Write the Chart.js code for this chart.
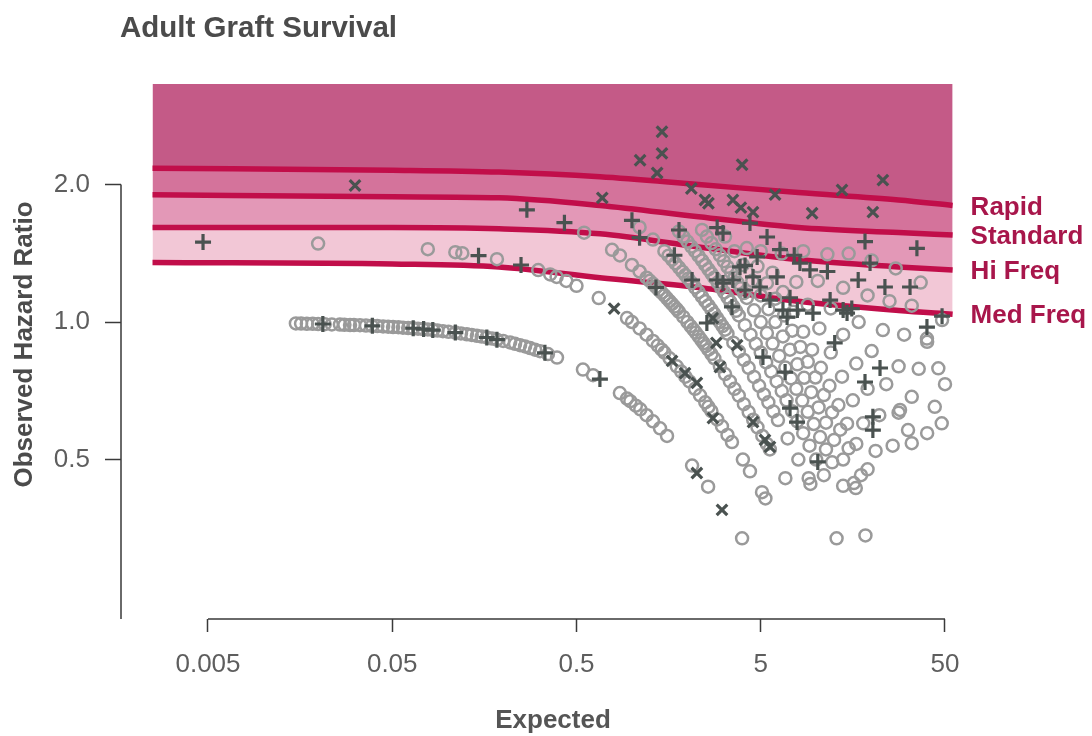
<!DOCTYPE html>
<html><head><meta charset="utf-8">
<script src="https://cdn.jsdelivr.net/npm/chart.js@4"></script>
<style>html,body{margin:0;padding:0;background:#fff}canvas{display:block}</style>
</head><body>
<canvas id="c" width="1092" height="736"></canvas>
<script>
// ---- tick labels ----
const xTicks = [0.005, 0.05, 0.5, 5, 50];
const yTicks = [0.5, 1, 2];

// ---- band boundary lines ----
const lineE = [0.0025, 0.05, 0.19, 0.67, 2.3, 8, 28, 55];
const rapidHR = [2.17, 2.15, 2.13, 2.08, 2.00, 1.92, 1.85, 1.80];
const standardHR = [1.90, 1.88, 1.87, 1.80, 1.70, 1.61, 1.57, 1.55];
const hiFreqHR = [1.61, 1.61, 1.60, 1.56, 1.46, 1.37, 1.32, 1.30];
const medFreqHR = [1.35, 1.34, 1.32, 1.25, 1.19, 1.11, 1.06, 1.04];
const topHR = [3.32, 3.32, 3.32, 3.32, 3.32, 3.32, 3.32, 3.32];
const lineNames = ['Rapid', 'Standard', 'Hi Freq', 'Med Freq'];

// ---- circles (grey) ----
const circleE = [
0.0150,0.0160,0.0172,0.0185,0.0198,0.0215,0.0235,0.0260,0.0275,0.0295,0.0310,0.0334,0.0360,0.0388,0.0415,0.0446,0.0475,0.0505,0.0540,0.0572,0.0610,0.0648,0.0690,0.0735,0.0780,0.0832,0.0880,0.0942,0.101,0.110,0.118,0.127,0.135,0.144,0.153,0.163,0.174,0.185,0.200,0.218,0.232,0.247,0.263,0.280,0.298,0.317,0.350,0.392,
0.542,0.615,0.860,0.940,0.980,1.05,1.11,1.20,1.30,1.42,1.55,2.12,2.59,3.96,
0.0198,0.078,0.110,0.120,0.185,0.310,0.360,0.390,0.440,0.500,0.660,0.940,1.00,1.10,1.20,1.38,1.50,1.60,1.75,1.85,2.05,2.20,2.34,2.50,2.70,2.90,3.08,3.30,3.49,4.00,4.37,5.08,5.30,
0.55,0.78,0.86,1.00,1.10,1.20,1.30,1.40,1.50,1.60,1.70,1.80,1.90,2.00,2.15,2.30,2.45,2.60,2.80,3.00,3.20,3.40,3.60,3.80,4.05,4.30,4.55,4.80,5.10,5.40,5.60,6.80,
1.10,1.30,1.50,1.65,1.80,1.95,2.10,2.30,2.50,2.70,2.90,3.10,3.30,3.55,3.80,4.05,4.30,4.60,4.90,5.20,5.50,5.85,6.20,7.00,8.00,9.30,12.9,
1.80,2.00,2.20,2.40,2.60,2.80,3.05,3.30,3.55,3.80,4.10,4.40,4.70,5.00,5.35,5.70,6.10,6.50,6.90,7.40,7.90,8.50,9.20,10.0,11.0,
2.40,2.70,3.00,3.30,3.60,3.90,4.20,4.60,5.00,5.40,5.80,6.30,6.80,7.30,7.80,8.40,9.00,9.70,10.5,11.3,12.2,14.0,18.5,
3.20,3.60,4.00,4.50,5.00,5.50,6.00,6.60,7.20,7.90,8.60,9.40,10.3,11.3,12.5,14.0,16.0,
4.20,4.80,5.40,6.00,6.70,7.40,8.20,9.00,9.90,11.0,12.2,13.5,15.0,17.5,
5.00,5.80,6.60,7.50,8.50,9.50,10.6,11.8,13.2,14.7,16.5,19.0,
6.50,7.80,9.00,10.4,12.0,13.8,15.8,18.0,21.0,
8.50,10.2,12.0,14.0,16.5,19.0,22.0,26.0,
11.5,14.0,17.0,20.0,24.0,28.0,33.0,
15.0,19.0,23.0,28.0,33.0,40.0,
20.0,25.0,30.0,36.0,44.0,48.0,
27.0,33.0,40.0,46.0,50.0,
9.1,16.4,31.5,28.5,48.2,39.9,36.9,
1.30,1.45,1.95,2.60,
1.25,1.35,1.45,1.55,1.65,1.75,2.08,2.22,2.38,2.52,2.70,
1.58,1.72,1.88,2.02,2.20,2.40,2.60,2.80,3.00,3.20,
1.90,2.10,2.30,2.50,2.70,2.92,3.17,3.42,3.67,
2.55,2.85,3.15,3.45,3.75,4.05
];
const circleHR = [
0.993,0.992,0.991,0.991,0.990,0.989,0.988,0.987,0.986,0.985,0.985,0.984,0.982,0.981,0.980,0.978,0.977,0.975,0.974,0.972,0.970,0.969,0.967,0.965,0.963,0.960,0.958,0.955,0.952,0.948,0.944,0.940,0.937,0.933,0.929,0.925,0.920,0.915,0.909,0.902,0.896,0.890,0.884,0.877,0.870,0.863,0.851,0.836,
0.787,0.765,0.699,0.680,0.671,0.656,0.644,0.625,0.606,0.585,0.563,0.485,0.436,0.336,
1.485,1.444,1.422,1.415,1.373,1.299,1.271,1.255,1.230,1.200,1.128,1.020,1.000,0.968,0.938,0.888,0.857,0.833,0.800,0.779,0.741,0.714,0.691,0.667,0.638,0.612,0.591,0.566,0.546,0.500,0.471,0.424,0.411,
1.569,1.439,1.399,1.333,1.290,1.250,1.212,1.176,1.143,1.111,1.081,1.053,1.026,1.000,0.964,0.930,0.899,0.870,0.833,0.800,0.769,0.741,0.714,0.690,0.661,0.635,0.611,0.588,0.563,0.541,0.526,0.455,
1.613,1.515,1.429,1.370,1.316,1.266,1.220,1.163,1.111,1.064,1.020,0.980,0.943,0.901,0.862,0.826,0.794,0.758,0.725,0.694,0.667,0.637,0.610,0.556,0.500,0.442,0.336,
1.579,1.500,1.429,1.364,1.304,1.250,1.188,1.132,1.081,1.034,0.984,0.938,0.896,0.857,0.816,0.779,0.741,0.706,0.674,0.638,0.606,0.571,0.536,0.500,0.462,
1.591,1.489,1.400,1.321,1.250,1.186,1.129,1.061,1.000,0.946,0.897,0.843,0.795,0.753,0.714,0.673,0.636,0.598,0.560,0.526,0.493,0.438,0.341,
1.538,1.429,1.333,1.231,1.143,1.067,1.000,0.930,0.870,0.808,0.755,0.702,0.650,0.602,0.552,0.500,0.444,
1.452,1.324,1.216,1.125,1.034,0.957,0.882,0.818,0.756,0.692,0.634,0.581,0.529,0.462,
1.429,1.282,1.163,1.053,0.952,0.870,0.794,0.725,0.658,0.599,0.541,0.476,
1.412,1.224,1.091,0.968,0.857,0.759,0.674,0.600,0.522,
1.429,1.230,1.071,0.938,0.811,0.714,0.625,0.536,
1.407,1.188,1.000,0.864,0.731,0.633,0.543,
1.412,1.143,0.960,0.800,0.686,0.571,
1.364,1.111,0.938,0.790,0.652,0.600,
1.310,1.086,0.905,0.792,0.731,
0.455,0.433,0.580,0.642,1.010,0.920,1.220,
0.909,0.870,0.759,0.652,
1.231,1.194,1.159,1.127,1.096,1.067,0.980,0.948,0.913,0.885,0.851,
1.397,1.344,1.289,1.244,1.190,1.136,1.087,1.042,1.000,0.962,
1.538,1.463,1.395,1.333,1.277,1.220,1.161,1.107,1.058,
1.538,1.443,1.359,1.284,1.217,1.157
];

// ---- plus markers (dark) ----
const plusE = [0.021,0.039,0.065,0.074,0.083,0.110,0.163,0.185,0.337,0.670,0.0047,0.147,0.250,0.269,0.43,1.00,1.10,1.80,2.90,1.70,1.35,
18.4,35.2,19.6,23.6,32.3,16.9,8.16,9.25,6.12,4.95,3.12,3.12,3.86,5.41,4.37,4.78,6.95,9.6,14.7,39.9,3.49,2.55,48.2,
5.14,6.78,7.21,7.87,10.2,20.3,20.3,22.2,18.4,12.6,4.11,5.61,7.21,11.9,6.36,7.6,4.11,
2.12,2.9,3.53,4.54,11.5,6.6,7.9,14.0,15.6];
const plusHR = [0.990,0.981,0.969,0.965,0.960,0.948,0.925,0.915,0.856,0.750,1.496,1.397,1.333,1.76,1.65,1.67,1.53,1.59,1.61,1.40,1.19,
1.50,1.45,1.346,1.193,1.193,1.236,1.346,1.30,1.255,1.193,1.566,1.217,1.32,1.535,1.647,1.388,1.025,1.046,1.046,0.975,1.079,0.995,1.03,
0.838,0.777,0.648,0.604,0.494,0.62,0.58,0.793,0.739,0.90,1.175,1.117,1.13,1.117,1.44,1.40,1.33,
1.236,1.236,1.236,1.255,1.29,1.062,1.062,1.062,1.07];

// ---- x markers (dark) ----
const crossE = [0.0314,0.69,2.1,1.455,1.455,1.107,1.37,3.96,13.8,23.0,9.5,20.3,2.49,3.53,5.98,4.54,2.6,3.9,
0.80,1.65,1.94,2.25,2.75,3.0,3.72,4.54,5.27,5.61,2.25,3.08,2.75,2.87];
const crossHR = [1.99,1.87,1.96,2.61,2.34,2.26,2.12,2.21,1.945,2.045,1.73,1.74,1.85,1.85,1.90,1.74,1.82,1.78,
1.07,0.822,0.773,0.736,0.616,0.797,0.89,0.604,0.552,0.533,0.467,0.388,1.02,0.90];

const pts = (xs, ys) => xs.map((x, i) => ({x: x, y: ys[i]}));

const LINE_COL = '#c10e4a';
const LABEL_COL = '#a8164b';
const BAND_TOP = '#c45a87';
const BAND_2 = '#d4739b';
const BAND_3 = '#e398b7';
const BAND_4 = '#f2c7d6';
const DARK = '#4a5250';
const tickFont = {family: "'Liberation Sans', Arial, sans-serif", size: 26};
const boldFont = "'Liberation Sans', Arial, sans-serif";

const decor = {
  id: 'decor',
  afterDatasetsDraw(chart) {
    const ctx = chart.ctx, xs = chart.scales.x, ys = chart.scales.y, ca = chart.chartArea;
    ctx.save();
    ctx.strokeStyle = '#3a3a3a';
    ctx.lineWidth = 1.5;
    ctx.beginPath();
    ctx.moveTo(xs.getPixelForValue(xTicks[0]), ca.bottom);
    ctx.lineTo(xs.getPixelForValue(xTicks[xTicks.length - 1]), ca.bottom);
    ctx.moveTo(ca.left, ys.getPixelForValue(yTicks[yTicks.length - 1]));
    ctx.lineTo(ca.left, ca.bottom);
    ctx.stroke();
    // line labels
    ctx.fillStyle = LABEL_COL;
    ctx.font = 'bold 26px ' + boldFont;
    ctx.textBaseline = 'middle';
    ctx.textAlign = 'left';
    for (let i = 0; i < 4; i++) {
      const meta = chart.getDatasetMeta(3 + i);
      const last = meta.data[meta.data.length - 1];
      ctx.fillText(lineNames[i], last.x + 18, last.y + 2);
    }
    // title
    ctx.fillStyle = '#4b4b4b';
    ctx.font = 'bold 29.5px ' + boldFont;
    ctx.textBaseline = 'alphabetic';
    ctx.fillText('Adult Graft Survival', 120, 37);
    ctx.restore();
  }
};

const lineDs = (label, data, fill, bg, extra) => Object.assign({
  type: 'line', label: label, data: data,
  borderColor: LINE_COL, borderWidth: 5.5, borderCapStyle: 'butt',
  pointRadius: 0, cubicInterpolationMode: 'monotone',
  fill: fill, backgroundColor: bg
}, extra || {});

new Chart(document.getElementById('c'), {
  type: 'scatter',
  data: {
    datasets: [
      {label: 'plus', data: pts(plusE, plusHR), pointStyle: 'cross', pointRadius: 8, borderWidth: 3.2, borderColor: DARK, backgroundColor: DARK},
      {label: 'x', data: pts(crossE, crossHR), pointStyle: 'crossRot', pointRadius: 7.5, borderWidth: 3.2, borderColor: DARK, backgroundColor: DARK},
      {label: 'circle', data: pts(circleE, circleHR), pointStyle: 'circle', pointRadius: 6, borderWidth: 2.5, borderColor: '#9a9a9a', backgroundColor: 'rgba(0,0,0,0)'},
      lineDs(lineNames[0], pts(lineE, rapidHR), {target: 4, above: BAND_2, below: BAND_2}, BAND_2),
      lineDs(lineNames[1], pts(lineE, standardHR), {target: 5, above: BAND_3, below: BAND_3}, BAND_3),
      lineDs(lineNames[2], pts(lineE, hiFreqHR), {target: 6, above: BAND_4, below: BAND_4}, BAND_4),
      lineDs(lineNames[3], pts(lineE, medFreqHR), false, 'rgba(0,0,0,0)'),
      lineDs('top', pts(lineE, topHR), {target: 3, above: BAND_TOP, below: BAND_TOP}, BAND_TOP, {borderWidth: 0, borderColor: 'rgba(0,0,0,0)', cubicInterpolationMode: 'default', tension: 0})
    ]
  },
  options: {
    responsive: false,
    animation: false,
    devicePixelRatio: 1,
    layout: {padding: {top: 70, right: 107, left: 0, bottom: 0}},
    plugins: {
      legend: {display: false},
      tooltip: {enabled: false},
      filler: {drawTime: 'beforeDatasetsDraw', propagate: false}
    },
    scales: {
      x: {
        type: 'logarithmic',
        min: 0.001686, max: 82.43,
        border: {display: false},
        grid: {display: true, drawOnChartArea: false, drawTicks: true, tickLength: 13, tickColor: '#3a3a3a', tickWidth: 1.5},
        ticks: {autoSkip: false, maxRotation: 0, padding: 17, color: '#5e5e5e', font: tickFont,
          callback: (v) => String(v)},
        afterBuildTicks: (s) => { s.ticks = xTicks.map(v => ({value: v})); },
        afterFit: (s) => { s.height = 117; },
        title: {display: true, text: 'Expected', color: '#555555', font: {family: boldFont, size: 26, weight: 'bold', lineHeight: 1.2}, padding: {top: 0, bottom: 0}}
      },
      y: {
        type: 'logarithmic',
        min: 0.22377, max: 3.5623,
        border: {display: false},
        grid: {display: true, drawOnChartArea: false, drawTicks: true, tickLength: 16, tickColor: '#3a3a3a', tickWidth: 1.5},
        ticks: {autoSkip: false, padding: 15, color: '#5e5e5e', font: tickFont,
          callback: (v) => Number(v).toFixed(1)},
        afterBuildTicks: (s) => { s.ticks = yTicks.map(v => ({value: v})); },
        afterFit: (s) => { s.width = 121; },
        title: {display: true, text: 'Observed Hazard Ratio', color: '#4b4b4b', font: {family: boldFont, size: 26, weight: 'bold', lineHeight: 1.2}, padding: {top: 9, bottom: 0}}
      }
    }
  },
  plugins: [decor]
});
</script>
</body></html>
